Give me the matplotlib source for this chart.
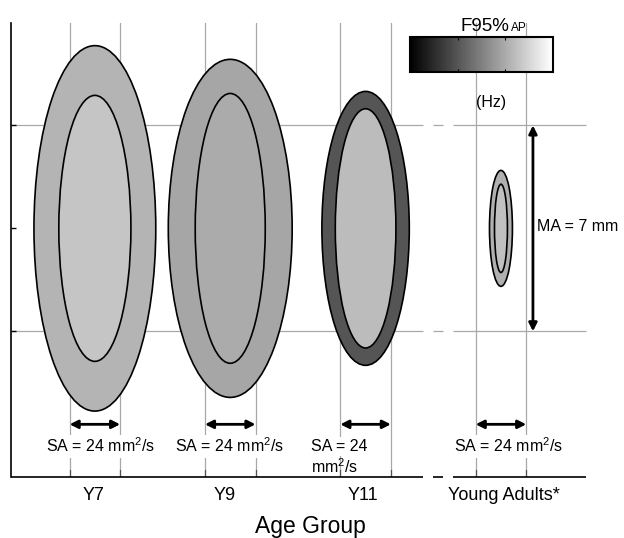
import numpy as np
import matplotlib.pyplot as plt
from matplotlib.patches import Ellipse
from matplotlib.cm import ScalarMappable
from matplotlib.colors import Normalize

plt.rcParams['font.family'] = ['Liberation Sans', 'DejaVu Sans']
plt.rcParams['mathtext.default'] = 'regular'

groups = ["Y7", "Y9", "Y11", "Young Adults*"]
# ellipse extents in mm (full width = AP-ML, full height)
outer_width = [4.14, 4.21, 2.97, 0.78]
outer_height = [12.42, 11.49, 9.31, 3.94]
inner_width = [2.45, 2.38, 2.06, 0.44]
inner_height = [9.04, 9.17, 8.13, 3.00]
# F95%AP shade on the grey scale (0 = black, 1 = white)
outer_shade = [0.706, 0.650, 0.333, 0.690]
inner_shade = [0.770, 0.670, 0.737, 0.753]
sa_labels = ["SA = 24 mm$^2$/s", "SA = 24 mm$^2$/s", "SA = 24", "SA = 24 mm$^2$/s"]
ma_label = "MA = 7 mm"

fig = plt.figure(figsize=(6.24, 5.38), dpi=100)
ax = fig.add_axes([11 / 624, 1 - 476.7 / 538, 575 / 624, 453.7 / 538])
x_max, y_min, y_max = 19.54, -8.44, 6.98
ax.set_xlim(0, x_max)
ax.set_ylim(y_min, y_max)

cmap = plt.get_cmap('gray')
centers = 2.85 + 4.6 * np.arange(len(groups))
half_sa = 0.86
grid_col = '#a8a8a8'

# broken horizontal lines (axis break before young adults)
pieces = [(0, 13.99), (14.34, 14.68), (15.02, x_max)]


def broken_hline(y, **kw):
    for a, b in pieces:
        ax.plot([a, b], [y, y], solid_capstyle='butt', clip_on=False, **kw)


for y in (-3.5, 3.5):
    broken_hline(y, color=grid_col, lw=0.9, zorder=1)
broken_hline(y_min, color='black', lw=1.2, zorder=4)

for c in centers:
    for xv in (c - half_sa, c + half_sa):
        ax.plot([xv, xv], [y_min, y_max], color=grid_col, lw=0.9, zorder=1)
        ax.plot([xv, xv], [y_min, y_min + 0.22], color='#555555', lw=0.9, zorder=3)

for i, c in enumerate(centers):
    ax.add_patch(Ellipse((c, 0), outer_width[i], outer_height[i],
                         fc=cmap(outer_shade[i]), ec='black', lw=1.2, zorder=2))
    ax.add_patch(Ellipse((c, 0), inner_width[i], inner_height[i],
                         fc=cmap(inner_shade[i]), ec='black', lw=1.2, zorder=2))
    ax.annotate('', xy=(c - half_sa, -6.66), xytext=(c + half_sa, -6.66),
                arrowprops=dict(arrowstyle='<|-|>', color='black', lw=2,
                                mutation_scale=12, shrinkA=0, shrinkB=0), zorder=3)

# SA labels
sa_box = dict(fc='white', ec='none', pad=1.5)
ax.text(3.06, -7.40, sa_labels[0], ha='center', va='center', fontsize=11.5, bbox=sa_box, zorder=3)
ax.text(7.44, -7.40, sa_labels[1], ha='center', va='center', fontsize=11.5, bbox=sa_box, zorder=3)
ax.text(10.19, -7.40, sa_labels[2], ha='left', va='center', fontsize=11.5, bbox=sa_box, zorder=3)
ax.text(10.19, -8.10, "mm$^2$/s", ha='left', va='center', fontsize=11.5, zorder=3)
ax.text(16.92, -7.40, sa_labels[3], ha='center', va='center', fontsize=11.5, bbox=sa_box, zorder=3)

# MA arrow
ma_x = (533 - 11) / 29.43
ax.annotate('', xy=(ma_x, 3.5), xytext=(ma_x, -3.5),
            arrowprops=dict(arrowstyle='<|-|>', color='black', lw=2,
                            mutation_scale=12, shrinkA=0, shrinkB=0), zorder=3)
ax.text(ma_x + 0.15, 0.05, ma_label, ha='left', va='center', fontsize=11.5, clip_on=False)

# category labels
shift = [-0.05, -0.2, -0.1, 0.1]
for c, s, g in zip(centers, shift, groups):
    ax.text(c + s, y_min - 23.3 / 29.43, g, ha='center', va='baseline',
            fontsize=13, clip_on=False)
fig.text(310 / 624, 1 - 533.3 / 538, "Age Group", ha='center', va='baseline', fontsize=16.5)

ax.set_xticks([])
ax.set_yticks([-3.5, 0, 3.5])
ax.set_yticklabels([])
ax.tick_params(axis='y', direction='in', length=3.5, width=1)
for side in ('top', 'right', 'bottom'):
    ax.spines[side].set_visible(False)
ax.spines['left'].set_linewidth(1.2)

# colour bar
cax = fig.add_axes([410 / 624, 1 - 72 / 538, 142.5 / 624, 34.7 / 538])
cb = fig.colorbar(ScalarMappable(norm=Normalize(0, 1), cmap=cmap), cax=cax,
                  orientation='horizontal')
cb.set_ticks([1 / 3, 2 / 3])
cb.set_ticklabels([])
cax.tick_params(direction='in', length=2.5, top=True, bottom=True)
cb.outline.set_linewidth(1.5)
fig.text(460 / 624, 1 - 31 / 538, 'F95%', ha='left', va='baseline', fontsize=13.5)
fig.text(511 / 624, 1 - 31 / 538, 'AP', ha='left', va='baseline', fontsize=8.5)
fig.text(491 / 624, 1 - 103 / 538, "(Hz)", ha='center', va='center', fontsize=11.5)

fig.savefig('out.png', dpi=100)
